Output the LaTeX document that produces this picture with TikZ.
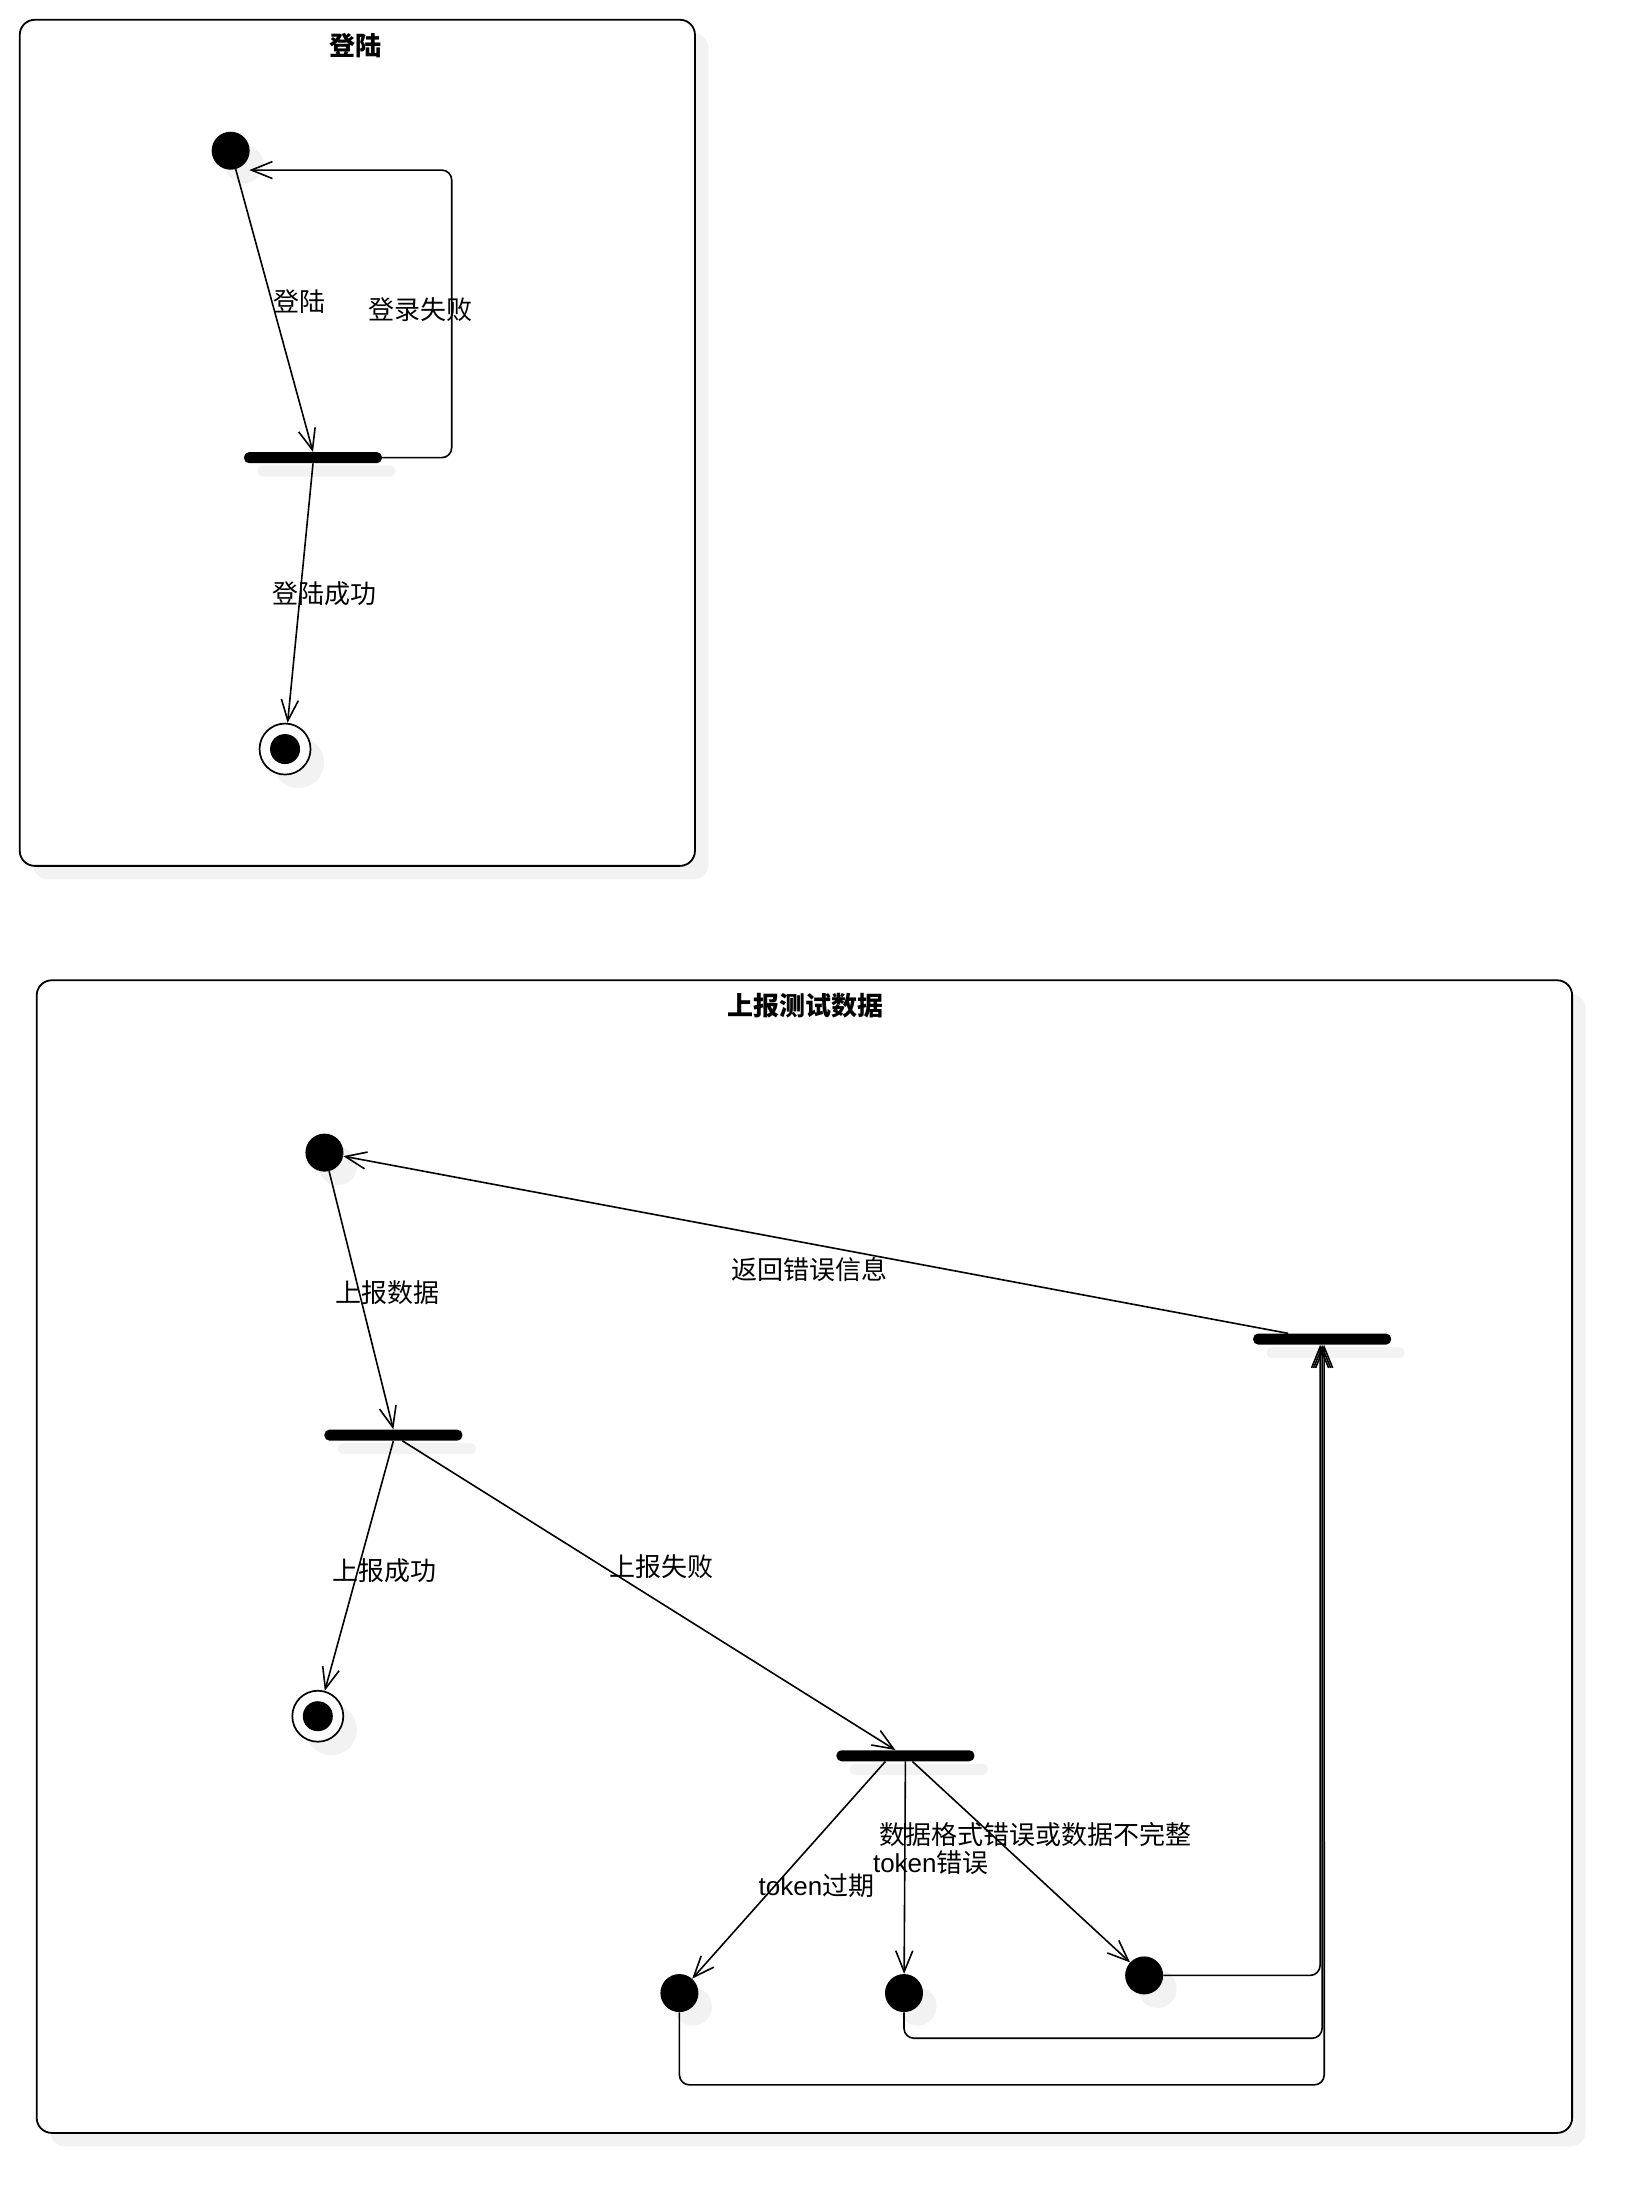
\documentclass[tikz,border=0pt]{standalone}
\usepackage{fontspec}
\setmainfont{Noto Sans CJK SC}
\newfontfamily\latfont{Liberation Sans}
\usetikzlibrary{arrows.meta,shadows}
\definecolor{shadowgray}{RGB}{242,242,242}
\tikzset{
  sh/.style={general shadow={shadow xshift=13.5pt, shadow yshift=-13.5pt, fill=shadowgray}},
  frame/.style={draw, line width=1.8pt, rounded corners=15pt, fill=white, sh},
  initnode/.style={circle, fill=black, minimum size=38pt, inner sep=0pt, sh},
  finalnode/.style={circle, draw, fill=white, line width=1.7pt, minimum size=51pt, inner sep=0pt, sh},
  barnode/.style={rectangle, fill=black, minimum width=138pt, minimum height=11pt, rounded corners=5pt, inner sep=0pt, sh},
  lbl/.style={font=\fontsize{26pt}{30pt}\selectfont, inner sep=0pt},
  ttl/.style={font=\fontsize{26pt}{30pt}\selectfont\bfseries, inner sep=0pt},
  arr/.style={line width=1.6pt, -{Straight Barb[length=21pt, width=17pt, line width=1.6pt]}},
}
\begin{document}
\begin{tikzpicture}[x=1.4125pt, y=-1.4125pt]
\useasboundingbox (0pt,0pt) rectangle (1652pt,-2212pt);
% frames
\draw[frame] (14,14) rectangle (492,613);
\draw[frame] (26,694) rectangle (1113,1510);
\node[ttl] (t1) at (252,32) {登陆};
\node[ttl] (t2) at (570,712) {上报测试数据};

% ---- login ----
\node[initnode] (init1) at (163.3,106.7) {};
\node[barnode] (bar1) at (221.6,324) {};
\node[finalnode] (final1) at (201.8,530.3) {};
\fill (final1.center) circle (15pt);
\coordinate (loopend) at (176.5,120.4);

\draw[arr] (init1) -- (bar1.north);
\node[lbl] (l1) at (211.7,213.8) {登陆};
\draw[arr, rounded corners=10pt] (bar1.east) -| (319.8,300) |- (loopend);
\node[lbl] (l2) at (298,219.5) {登录失败};
\draw[arr] (bar1.south) -- (final1);
\node[lbl] (l3) at (230,420) {登陆成功};

% ---- upload ----
\node[initnode] (init2) at (229.7,816) {};
\node[barnode] (bar2) at (278.5,1016) {};
\node[finalnode] (final2) at (225,1215) {};
\fill (final2.center) circle (15pt);
\node[barnode] (bar3) at (641,1243) {};
\node[barnode] (bar4) at (936,948) {};
\node[initnode] (nodeA) at (481,1411) {};
\node[initnode] (nodeB) at (640,1411) {};
\node[initnode] (nodeC) at (810,1398.5) {};
\coordinate (rB) at (936,1443);
\coordinate (rA) at (937.5,1476);

\draw[arr] (init2) -- (bar2.north);
\node[lbl] (l4) at (274,915) {上报数据};
\draw[arr] (bar2.south) -- (final2);
\node[lbl] (l5) at (272,1112) {上报成功};
\draw[arr] ([xshift=9pt]bar2.south) -- ([xshift=-10pt]bar3.north);
\node[lbl] (l6) at (468,1109) {上报失败};
\draw[arr] ([xshift=-34pt]bar4.north) -- (init2);
\node[lbl] (l7) at (573,899) {返回错误信息};

\draw[arr] ([xshift=-20pt]bar3.south) -- (nodeA);
\node[lbl] (l8) at (578,1335) {{\latfont token}过期};
\draw[arr] (bar3.south) -- (nodeB);
\node[lbl] (l9) at (659,1319) {{\latfont token}错误};
\draw[arr] ([xshift=7pt]bar3.south) -- (nodeC);
\node[lbl] (l10) at (733,1299) {数据格式错误或数据不完整};

\draw[arr, rounded corners=10pt] (nodeC.east) -| ([xshift=-2pt]bar4.south);
\draw[arr, rounded corners=10pt] (nodeB.south) |- (rB) -- (bar4.south);
\draw[arr, rounded corners=10pt] (nodeA.south) |- (rA) -- ([xshift=2pt]bar4.south);
\end{tikzpicture}
\end{document}
